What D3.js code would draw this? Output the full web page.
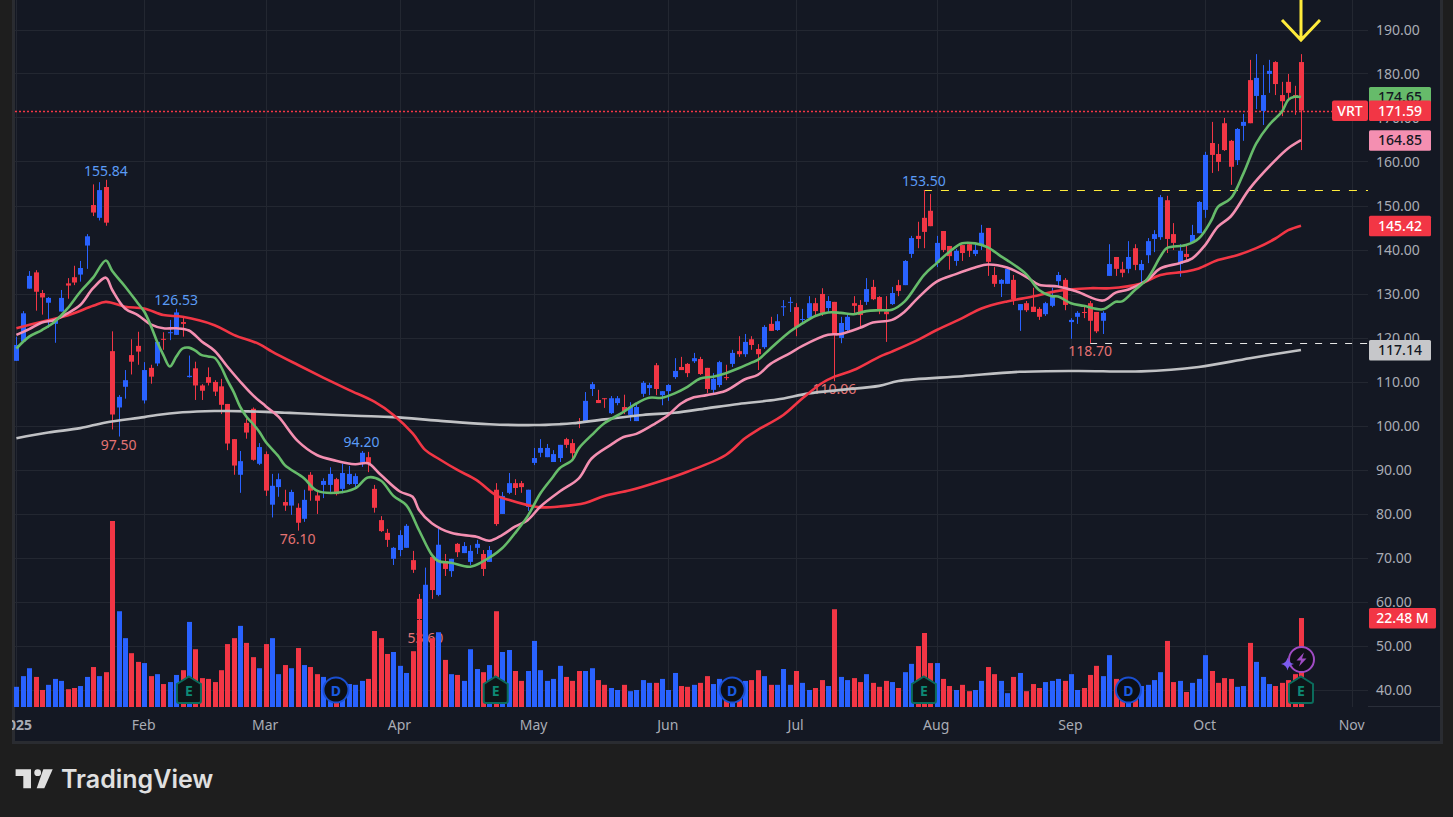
<!DOCTYPE html>
<html>
<head>
<meta charset="utf-8">
<script src="https://cdn.jsdelivr.net/npm/d3@7"></script>
<style>
  html, body { margin: 0; padding: 0; background: #1e1e1e; overflow: hidden; }
  svg { display: block; }
  text { font-family: "Noto Sans", sans-serif; }
</style>
</head>
<body>
<script>
const opens = [
  114.7,119.1,131.1,134.8,130.1,127.9,123.1,125.9,132.3,133.7,
  134.3,140.9,150.1,147.2,154.2,116.9,104.1,108.8,116.0,118.1,
  105.7,113.1,114.1,119.7,121.0,120.6,123.5,111.0,113.0,109.1,
  111.0,109.9,108.9,104.9,96.9,88.8,100.6,103.8,91.3,93.5,
  82.0,86.0,82.6,81.8,81.3,78.8,88.8,84.1,86.5,86.5,
  87.8,85.6,86.7,86.7,91.6,92.8,85.6,78.5,75.6,69.7,
  71.7,72.2,69.4,60.6,55.5,70.1,61.5,69.2,66.9,73.1,
  71.0,69.0,72.2,70.8,69.0,85.4,79.9,84.7,86.9,86.9,
  81.5,91.5,93.8,92.8,91.7,92.6,96.9,96.0,100.9,100.8,
  108.3,105.8,106.2,102.8,105.1,104.2,102.4,101.0,107.2,108.5,
  113.7,106.9,107.8,111.0,113.3,114.0,114.6,115.1,113.1,108.1,
  109.2,111.0,114.0,116.9,116.2,119.6,117.4,117.8,123.1,121.7,
  127.0,127.9,126.9,124.0,124.4,127.8,129.9,126.7,128.1,119.9,
  121.7,127.8,127.4,128.1,131.5,129.2,125.9,127.6,131.9,131.9,
  139.0,143.1,147.2,148.8,137.0,144.2,140.8,137.4,141.0,141.2,
  139.0,141.0,144.9,134.2,132.2,132.2,133.1,126.2,127.8,127.0,
  126.5,125.3,127.2,132.8,133.1,123.5,124.7,125.8,127.8,125.8,
  123.8,134.0,138.3,135.5,135.6,140.3,135.3,138.7,142.4,142.8,
  151.2,143.5,136.7,139.0,141.7,143.7,149.0,164.2,161.7,168.7,
  164.7,160.3,168.1,178.5,174.9,171.5,179.9,182.6,175.1,178.1,
  175.1,182.6
]

const highs = [
  120.2,126.0,135.1,135.3,130.8,129.2,124.5,130.8,133.5,136.3,
  137.4,143.5,154.8,155.3,155.84,121.4,106.9,112.6,119.6,121.3,
  114.4,113.8,119.0,121.2,124.0,126.53,124.7,115.9,114.5,109.4,
  113.2,110.3,110.6,104.9,96.9,94.2,101.6,104.1,96.0,94.1,
  89.0,89.1,85.4,85.4,82.3,85.4,89.4,85.4,88.0,90.5,
  88.1,91.3,90.8,89.1,94.2,94.0,86.5,79.4,76.5,72.4,
  76.2,77.6,71.5,61.7,67.7,70.1,76.5,70.8,69.7,73.3,
  73.5,72.8,74.0,71.7,72.6,86.9,84.9,89.2,87.8,87.4,
  85.4,94.9,96.9,95.8,94.4,95.6,97.2,96.9,101.7,107.6,
  109.9,108.1,106.2,106.7,106.7,107.0,105.3,105.0,110.1,109.7,
  114.2,107.8,109.4,115.3,115.6,114.2,116.5,115.6,113.1,111.9,
  114.7,113.8,117.2,120.3,120.8,120.3,118.5,122.8,124.7,125.3,
  128.5,129.2,127.8,126.5,129.4,129.0,131.2,129.4,128.1,124.7,
  125.3,129.4,128.5,133.5,133.1,129.4,129.4,131.5,133.1,137.6,
  143.1,146.3,153.5,152.6,143.1,144.2,140.8,140.1,141.0,141.5,
  141.2,145.6,144.9,136.0,133.3,135.6,134.2,127.6,128.3,131.3,
  126.9,128.1,131.3,134.9,133.5,124.4,126.0,127.2,128.3,125.8,
  126.0,141.2,138.3,137.2,141.9,141.2,137.6,142.6,144.4,152.4,
  152.2,146.0,141.2,140.9,145.6,151.0,162.2,169.0,164.0,169.9,
  164.9,167.6,170.8,183.1,184.4,181.9,183.1,182.8,178.1,179.9,
  177.2,184.4
]

const lows = [
  114.7,119.1,131.1,126.1,125.2,122.2,118.8,125.9,128.8,131.9,
  132.7,135.6,147.6,146.6,145.4,99.1,97.5,106.1,111.6,113.8,
  105.0,109.5,113.5,117.2,119.4,120.6,120.2,110.9,105.8,105.8,
  109.1,106.7,102.6,94.4,88.8,84.7,97.0,92.0,91.0,84.0,
  79.1,83.8,80.6,79.7,76.1,78.1,82.9,79.9,83.5,84.9,
  84.1,84.6,86.5,85.7,90.6,89.4,80.2,75.8,72.4,68.3,
  70.3,72.2,66.5,54.5,53.6,60.6,61.2,65.8,65.6,70.1,
  71.0,68.3,70.8,65.8,69.0,77.2,79.9,84.4,84.2,84.7,
  80.6,91.0,92.8,92.8,91.7,91.7,94.9,92.1,99.4,100.8,
  106.7,105.1,104.0,102.6,104.6,102.6,101.0,101.0,106.5,106.9,
  106.9,104.6,105.6,110.6,112.6,111.0,114.2,111.5,107.4,107.4,
  108.7,110.3,113.3,115.6,115.6,117.2,112.6,117.4,121.5,121.5,
  124.9,125.8,120.3,123.1,124.4,124.7,124.9,125.8,110.06,118.7,
  121.5,125.6,122.4,127.4,128.5,125.3,119.0,127.4,129.4,131.9,
  138.1,140.3,140.3,145.3,136.0,139.4,135.4,136.3,137.4,138.3,
  138.5,139.9,134.0,131.5,129.2,132.2,127.4,121.5,125.8,125.8,
  124.0,124.9,126.9,131.3,126.2,119.7,123.1,124.4,118.7,121.0,
  120.8,134.0,134.0,133.7,134.6,135.3,132.3,136.9,139.4,142.2,
  139.2,139.9,133.8,137.2,141.6,143.7,147.2,157.4,157.8,162.4,
  154.7,159.2,164.7,168.7,171.9,168.3,175.6,175.1,170.3,174.0,
  170.6,162.6
]

const closes = [
  118.3,125.5,134.0,130.4,129.1,129.0,124.0,129.0,131.8,132.5,
  135.8,143.0,148.4,153.5,146.1,102.5,106.5,110.3,114.5,116.8,
  112.6,111.1,119.0,119.5,121.2,125.7,123.1,111.3,109.1,107.9,
  109.7,107.7,104.7,95.9,90.9,91.9,98.4,92.2,95.1,85.2,
  86.3,87.8,81.8,84.9,77.9,83.1,85.2,82.9,87.4,89.0,
  84.4,89.2,89.0,88.5,93.8,91.3,81.3,76.0,74.0,72.2,
  75.1,77.2,67.2,56.0,63.8,62.6,72.9,67.4,69.7,71.2,
  72.6,71.5,73.1,67.4,71.7,77.6,84.0,86.9,85.8,86.0,
  85.4,92.6,94.9,94.9,93.5,95.6,95.6,93.7,100.7,105.6,
  109.4,105.1,106.0,106.2,106.2,103.3,104.2,104.2,109.7,109.2,
  108.3,107.8,109.2,112.4,112.6,111.9,115.3,111.7,108.3,110.6,
  114.4,110.8,116.5,116.2,119.0,118.3,116.2,122.4,121.5,123.7,
  127.1,128.1,122.4,124.2,127.8,126.0,125.6,128.3,120.6,123.3,
  124.7,127.2,125.1,131.0,128.7,126.0,125.3,130.1,130.6,137.4,
  142.6,142.4,144.0,145.3,141.5,139.9,138.5,139.7,139.2,139.7,
  139.9,143.8,137.2,132.2,133.1,135.6,128.7,127.6,126.2,125.8,
  124.7,127.8,129.2,134.2,127.4,124.0,125.6,125.6,123.8,121.4,
  125.6,136.7,135.6,134.7,138.3,136.5,136.7,141.9,143.5,151.9,
  142.4,141.5,139.7,138.3,143.3,150.8,161.5,161.5,159.9,162.6,
  158.8,167.4,169.0,168.7,179.0,175.1,180.6,177.6,173.7,175.6,
  174.7,171.59
]

// volume in millions
const volumes = [
  5.1,7.8,9.8,7.6,4.3,5.6,7.1,6.6,4.5,4.8,
  5.3,7.6,10.1,7.8,8.8,47.0,24.2,17.4,13.6,11.4,
  11.1,7.8,8.3,5.8,6.3,8.1,9.3,21.5,14.6,7.3,
  7.1,6.3,9.3,15.9,17.4,20.5,16.2,12.6,9.8,15.9,
  17.4,8.3,10.6,9.8,14.9,10.6,10.1,8.3,7.6,6.8,
  7.0,5.6,5.8,5.6,6.6,7.1,19.2,17.4,13.4,13.9,
  10.4,8.6,14.1,22.0,22.0,17.4,18.9,11.9,8.3,8.1,
  6.6,14.6,9.6,8.8,10.6,24.2,13.9,14.4,9.1,6.6,
  9.1,16.7,9.3,6.6,7.1,10.4,7.6,6.6,9.1,9.1,
  9.8,6.8,5.6,4.8,4.3,5.6,4.0,4.3,6.8,6.1,
  6.1,7.1,4.3,8.6,5.3,5.1,5.6,6.1,7.8,5.8,
  7.1,5.1,6.0,5.1,6.6,6.8,9.3,7.8,5.6,5.6,
  9.6,5.6,9.1,6.1,4.3,4.8,6.8,5.3,24.7,7.6,
  6.8,7.3,6.3,8.3,6.1,5.1,6.6,6.3,4.8,8.8,
  10.9,15.4,18.7,11.1,11.1,7.1,5.3,4.3,5.6,4.0,
  4.3,6.6,10.1,8.3,6.6,3.5,7.6,8.6,4.0,5.8,
  4.8,6.3,6.6,7.1,6.6,8.3,4.3,4.8,8.1,10.4,
  7.8,13.1,7.1,6.0,4.3,5.1,5.3,5.6,6.8,8.8,
  16.7,6.3,6.6,3.8,6.1,7.1,13.1,9.1,6.1,7.3,
  7.1,5.1,5.3,16.2,11.4,7.6,5.8,5.3,6.1,6.8,
  8.3,22.48
]

// moving averages: bar number and price, read at the bends
const greenBars = [0,2,4,6,8,10,12,14,15,17,19,20,21,22,23,24,25,26,27,28,29,30,31,32,33,34,35,36,37,38,39,41,42,45,47,50,53,55,57,59,61,63,65,66,68,71,73,76,78,80,82,84,85,87,88,90,92,95,97,99,101,103,105,107,109,111,113,115,116,118,121,123,125,127,129,131,133,135,137,139,142,144,146,148,150,152,154,155,158,160,162,163,165,167,170,172,173,175,177,179,180,183,185,187,188,190,192,194,196,198,199,200,201]
const greenValues = [117.5,120.2,121.7,123.6,126.6,130.4,133.6,137.5,135.1,131.6,127.8,125.9,122.8,119.1,116.0,113.4,115.6,117.5,117.7,117.0,116.0,115.7,115.4,113.4,110.3,107.6,104.3,102.0,100.4,98.6,96.3,93.0,91.0,88.0,85.2,84.7,85.7,88.2,87.5,84.0,81.9,76.2,70.6,69.2,68.8,67.9,69.1,72.1,75.5,79.4,84.6,88.4,90.3,92.2,94.8,97.8,100.5,103.1,105.0,106.3,106.3,107.3,108.8,110.7,111.1,111.9,113.0,114.3,114.9,117.5,121.3,123.2,124.9,125.7,125.6,125.3,126.0,126.2,126.3,128.2,134.2,136.9,139.5,141.4,141.4,140.5,138.5,137.6,134.4,130.8,129.4,129.3,127.8,127.2,126.4,128.1,128.2,130.8,133.4,138.4,140.3,141.0,142.5,146.7,149.7,151.6,157.3,164.1,168.3,171.3,174.0,174.7,174.65]

const pinkBars = [0,2,4,6,8,10,12,14,15,17,19,21,23,25,27,29,31,33,35,37,39,41,44,47,50,53,55,57,60,62,63,65,68,72,74,76,78,80,82,85,88,90,93,95,97,100,102,104,106,108,111,114,116,118,121,123,127,129,132,134,137,139,141,144,147,150,152,155,158,160,163,166,170,172,174,177,179,182,184,186,188,190,193,197,199,201]
const pinkValues = [120.6,121.9,123.4,124.0,125.5,127.4,131.2,133.6,130.8,126.6,125.1,123.0,122.1,122.1,121.6,119.1,117.0,113.4,110.0,106.9,104.4,102.0,96.5,93.3,92.0,91.2,91.4,88.8,85.0,83.8,80.8,77.8,75.6,74.7,73.8,75.1,77.0,78.5,81.6,85.0,88.0,92.5,95.6,97.4,98.1,100.5,102.4,105.0,106.4,106.9,107.9,110.5,111.5,114.0,116.4,118.1,120.6,120.8,122.2,123.4,124.0,125.9,128.9,132.7,134.4,135.9,136.6,135.9,133.8,132.0,131.6,130.4,128.4,130.2,130.9,133.1,135.7,136.9,138.0,141.0,145.2,147.5,153.9,160.3,163.0,164.85]

const redBars = [0,4,8,12,14,17,20,23,26,31,34,38,40,44,48,52,56,59,62,64,66,69,72,75,77,80,82,85,89,92,96,100,105,111,114,116,120,123,126,128,131,135,137,141,144,148,151,155,159,163,168,171,176,179,183,185,188,191,194,197,199,201]
const redValues = [122.1,123.6,125.0,127.2,128.1,127.0,126.6,125.1,124.7,122.8,120.6,118.5,116.8,113.8,110.9,108.1,105.4,102.4,98.2,94.4,92.5,89.9,87.6,84.2,83.1,81.9,81.4,81.6,82.4,84.0,85.3,87.0,89.5,93.3,97.1,99.0,102.4,106.2,109.6,111.1,112.6,115.6,116.8,119.4,121.7,124.4,126.6,128.2,129.3,130.6,131.2,131.2,132.3,134.2,135.0,135.7,137.6,138.7,140.3,142.5,144.4,145.42]

const greyBars = [0,5,10,14,20,22,26,31,33,39,42,44,53,59,66,74,81,85,87,92,98,103,108,113,119,124,129,135,138,148,157,166,176,185,193,201]
const greyValues = [97.1,98.4,99.4,100.7,101.9,102.4,103.0,103.3,103.3,103.1,102.9,102.8,102.2,101.9,101.1,100.3,100.1,100.3,100.5,101.4,102.4,102.9,103.9,104.9,105.9,107.3,108.1,109.0,110.1,111.2,112.2,112.4,112.3,113.3,115.3,117.14]

const priceTicks = [190,180,170,160,150,140,130,120,110,100,90,80,70,60,50,40]
const monthBars = [0,20,39,60,81,102,122,144,165,186,209]
const monthLabels = ["2025","Feb","Mar","Apr","May","Jun","Jul","Aug","Sep","Oct","Nov"]

const highLabelBars = [14,25,54,142]
const highLabelValues = ["155.84","126.53","94.20","153.50"]
const lowLabelBars = [16,44,64,128,168]
const lowLabelValues = ["97.50","76.10","53.60","110.06","118.70"]

const earningsBars = [27,75,142,201]
const dividendBars = [50,112,174]

const lastClose = 171.59
const ema10Last = 174.65
const ema20Last = 164.85
const ema50Last = 145.42
const ema200Last = 117.14
const lastVolume = "22.48 M"
const resistance = 153.50
const support = 118.70

const svgWidth = 1453
const svgHeight = 817
const pane = { left: 15, right: 1440, top: 0, bottom: 741 }
const plotRight = 1368
const plotBottom = 707

const RED = "#f23645"
const BLUE = "#2962ff"
const GREEN = "#66bb6a"
const PINK = "#f48fb1"
const GREY = "#c0c1c4"
const YELLOW = "#ffeb3b"
const GRID = "#232731"
const TICK_TEXT = "#a9acb5"

const svg = d3.select("body").append("svg")
  .attr("width", svgWidth)
  .attr("height", svgHeight)

svg.append("rect")
  .attr("x", 12)
  .attr("y", 0)
  .attr("width", pane.right - 12 + 3)
  .attr("height", pane.bottom + 3)
  .attr("fill", "#2a2c31")

svg.append("rect")
  .attr("x", pane.left)
  .attr("y", pane.top)
  .attr("width", pane.right - pane.left)
  .attr("height", pane.bottom - pane.top)
  .attr("fill", "#141823")

svg.append("defs").append("clipPath")
  .attr("id", "plot")
  .append("rect")
  .attr("x", pane.left - 1)
  .attr("y", 0)
  .attr("width", plotRight - pane.left + 1)
  .attr("height", plotBottom)

svg.select("defs").append("clipPath")
  .attr("id", "pane")
  .append("rect")
  .attr("x", pane.left - 2)
  .attr("y", 0)
  .attr("width", pane.right - pane.left + 2)
  .attr("height", pane.bottom)

const x = d3.scaleLinear().domain([0, 201]).range([16.4, 1301])
const y = d3.scaleLinear().domain([40, 190]).range([689.5, 29.5])
const yVol = d3.scaleLinear().domain([0, 47]).range([plotBottom, 521])

const bars = d3.range(opens.length)
const barColor = i => closes[i] >= opens[i] ? BLUE : RED
// bars sit on whole pixels so wicks stay crisp
const snap = i => Math.round(x(i))

// grid
const grid = svg.append("g").attr("clip-path", "url(#plot)")
grid.selectAll(".hgrid")
  .data(priceTicks)
  .enter()
  .append("line")
  .attr("x1", pane.left)
  .attr("x2", plotRight)
  .attr("y1", d => Math.round(y(d)) + 0.5)
  .attr("y2", d => Math.round(y(d)) + 0.5)
  .attr("stroke", GRID)
grid.selectAll(".vgrid")
  .data(monthBars)
  .enter()
  .append("line")
  .attr("x1", d => Math.round(x(d)) + 0.5)
  .attr("x2", d => Math.round(x(d)) + 0.5)
  .attr("y1", 0)
  .attr("y2", plotBottom)
  .attr("stroke", GRID)

// axes
const yAxis = d3.axisRight(y)
  .tickValues(priceTicks)
  .tickSize(0)
  .tickPadding(12)
  .tickFormat(d3.format(".2f"))

const yAxisG = svg.append("g")
  .attr("transform", `translate(${plotRight - 4}, 0.8)`)
  .call(yAxis)
yAxisG.select(".domain").remove()
yAxisG.selectAll("text")
  .attr("fill", TICK_TEXT)
  .style("font-size", "14px")

const xAxis = d3.axisBottom(x)
  .tickValues(monthBars)
  .tickSize(0)
  .tickPadding(12)
  .tickFormat((d, i) => monthLabels[i])

const xAxisG = svg.append("g")
  .attr("transform", `translate(-1, ${plotBottom + 1})`)
  .attr("clip-path", "url(#pane)")
  .call(xAxis)
xAxisG.select(".domain").remove()
xAxisG.selectAll("text")
  .attr("fill", TICK_TEXT)
  .style("font-size", "14px")
  .style("font-weight", (d, i) => i === 0 ? 700 : 400)

svg.append("line")
  .attr("x1", plotRight)
  .attr("x2", pane.right)
  .attr("y1", plotBottom - 0.5)
  .attr("y2", plotBottom - 0.5)
  .attr("stroke", "#2a2e39")

// high and low labels sit under the marks
const chartG = svg.append("g").attr("clip-path", "url(#plot)")

chartG.selectAll(".highLabel")
  .data(highLabelBars)
  .enter()
  .append("text")
  .attr("x", d => x(d))
  .attr("y", d => y(highs[d]) - 4)
  .attr("text-anchor", "middle")
  .attr("fill", "#5b9cf6")
  .style("font-size", "14px")
  .text((d, i) => highLabelValues[i])

chartG.selectAll(".lowLabel")
  .data(lowLabelBars)
  .enter()
  .append("text")
  .attr("x", d => x(d))
  .attr("y", d => y(lows[d]) + 13)
  .attr("text-anchor", "middle")
  .attr("fill", "#e57373")
  .style("font-size", "14px")
  .text((d, i) => lowLabelValues[i])

// volume
chartG.selectAll(".vol")
  .data(bars)
  .enter()
  .append("rect")
  .attr("x", d => snap(d) - 2)
  .attr("y", d => yVol(volumes[d]))
  .attr("width", 5)
  .attr("height", d => plotBottom - yVol(volumes[d]))
  .attr("fill", barColor)

// price lines
const priceLine = (xFrom, value, color, dash, width) => chartG.append("line")
  .attr("x1", xFrom)
  .attr("x2", plotRight)
  .attr("y1", Math.round(y(value)) + 0.5)
  .attr("y2", Math.round(y(value)) + 0.5)
  .attr("stroke", color)
  .attr("stroke-width", width)
  .attr("stroke-dasharray", dash)

priceLine(x(142), resistance, YELLOW, "8 9", 1)
priceLine(x(168), support, "#e6e6e6", "7 8", 1)
priceLine(pane.left, lastClose, RED, "2 2", 1.5)

// candles
chartG.selectAll(".wick")
  .data(bars)
  .enter()
  .append("line")
  .attr("x1", d => snap(d) + 0.5)
  .attr("x2", d => snap(d) + 0.5)
  .attr("y1", d => y(highs[d]))
  .attr("y2", d => y(lows[d]))
  .attr("stroke", barColor)
  .attr("stroke-width", 1)

chartG.selectAll(".body")
  .data(bars)
  .enter()
  .append("rect")
  .attr("x", d => snap(d) - 2)
  .attr("y", d => y(Math.max(opens[d], closes[d])))
  .attr("width", 5)
  .attr("height", d => Math.max(1, Math.abs(y(opens[d]) - y(closes[d]))))
  .attr("fill", barColor)

// moving averages
const maLine = (barsIn, values, color, width) => {
  const line = d3.line()
    .x(d => x(barsIn[d]))
    .y(d => y(values[d]))
    .curve(d3.curveCatmullRom.alpha(0.5))
  chartG.append("path")
    .attr("d", line(d3.range(barsIn.length)))
    .attr("fill", "none")
    .attr("stroke", color)
    .attr("stroke-width", width)
    .attr("stroke-linejoin", "round")
}

maLine(greyBars, greyValues, GREY, 2.6)
maLine(redBars, redValues, RED, 2.6)
maLine(pinkBars, pinkValues, PINK, 2.6)
maLine(greenBars, greenValues, GREEN, 2.6)

// arrow pointing at the last bar
const arrowPath = d3.path()
arrowPath.moveTo(x(201), -2)
arrowPath.lineTo(x(201), 40)
arrowPath.moveTo(x(201) - 19, 20)
arrowPath.lineTo(x(201), 40)
arrowPath.lineTo(x(201) + 19, 20)
svg.append("path")
  .attr("d", arrowPath.toString())
  .attr("fill", "none")
  .attr("stroke", YELLOW)
  .attr("stroke-width", 3)

// event badges
const badges = svg.append("g")

const earnings = badges.selectAll(".earnings")
  .data(earningsBars)
  .enter()
  .append("g")
  .attr("transform", d => `translate(${x(d)}, 690)`)
earnings.append("path")
  .attr("d", "M0,-13.5 L12,-6 L12,11 Q12,13 10,13 L-10,13 Q-12,13 -12,11 L-12,-6 Z")
  .attr("fill", "#0e1518")
  .attr("stroke", "#0b6b5c")
  .attr("stroke-width", 2)
earnings.append("text")
  .attr("text-anchor", "middle")
  .attr("y", 5.5)
  .attr("fill", "#0d8a75")
  .style("font-size", "14px")
  .style("font-weight", 700)
  .text("E")

const dividends = badges.selectAll(".dividend")
  .data(dividendBars)
  .enter()
  .append("g")
  .attr("transform", d => `translate(${x(d)}, 690)`)
dividends.append("circle")
  .attr("r", 12.5)
  .attr("fill", "#0c0f16")
  .attr("stroke", "#1a4fd0")
  .attr("stroke-width", 2)
dividends.append("text")
  .attr("text-anchor", "middle")
  .attr("y", 5.5)
  .attr("fill", "#1a5be0")
  .style("font-size", "14px")
  .style("font-weight", 700)
  .text("D")

const flash = badges.append("g")
  .attr("transform", `translate(${x(201) + 0.5}, 659.5)`)
flash.append("circle")
  .attr("r", 12.5)
  .attr("fill", "#101018")
  .attr("stroke", "#a04cc4")
  .attr("stroke-width", 2)
flash.append("path")
  .attr("d", "M2.5,-7 L-5,1 L-0.5,1 L-2.5,7 L5,-1 L0.5,-1 Z")
  .attr("fill", "#a04cc4")
badges.append("path")
  .attr("transform", `translate(${x(201) - 13.5}, 664)`)
  .attr("d", "M0,-6.5 Q1,-1 6.5,0 Q1,1 0,6.5 Q-1,1 -6.5,0 Q-1,-1 0,-6.5 Z")
  .attr("fill", "#7c5cf0")

// tags on the price scale, drawn over the tick labels
const tag = (centerY, bg, fg, label, width) => {
  const g = svg.append("g")
  g.append("rect")
    .attr("x", plotRight + 1)
    .attr("y", centerY - 10)
    .attr("width", width)
    .attr("height", 20.5)
    .attr("rx", 1.5)
    .attr("fill", bg)
  g.append("text")
    .attr("x", plotRight + 1 + width / 2)
    .attr("y", centerY + 5)
    .attr("text-anchor", "middle")
    .attr("fill", fg)
    .style("font-size", "14px")
    .style("font-weight", 500)
    .text(label)
}

tag(y(ema10Last), GREEN, "#131722", ema10Last.toFixed(2), 62)
tag(y(ema20Last), PINK, "#131722", ema20Last.toFixed(2), 62)
tag(y(ema50Last), RED, "#ffffff", ema50Last.toFixed(2), 62)
tag(y(ema200Last), "#c6c7ca", "#131722", ema200Last.toFixed(2), 62)
tag(yVol(22.48), RED, "#ffffff", lastVolume, 67)

svg.append("rect")
  .attr("x", 1332)
  .attr("y", y(lastClose) - 10)
  .attr("width", 36)
  .attr("height", 20.5)
  .attr("rx", 2)
  .attr("fill", RED)
svg.append("text")
  .attr("x", 1350)
  .attr("y", y(lastClose) + 5)
  .attr("text-anchor", "middle")
  .attr("fill", "#ffffff")
  .style("font-size", "14px")
  .style("font-weight", 500)
  .text("VRT")
tag(y(lastClose), RED, "#ffffff", lastClose.toFixed(2), 62)

// logo
const logo = svg.append("g").attr("fill", "#e0e0e0")
logo.append("path").attr("d", "M15.6,769.3 H31 V788.3 H23.3 V776 H15.6 Z")
logo.append("circle").attr("cx", 37.7).attr("cy", 772.7).attr("r", 3.4)
logo.append("path").attr("d", "M43.3,769.3 H52.7 L44.3,788.3 H36.7 Z")
logo.append("text")
  .attr("x", 61)
  .attr("y", 788.3)
  .style("font-family", "Inter, sans-serif")
  .style("font-size", "25px")
  .style("font-weight", 600)
  .text("TradingView")
</script>
</body>
</html>
